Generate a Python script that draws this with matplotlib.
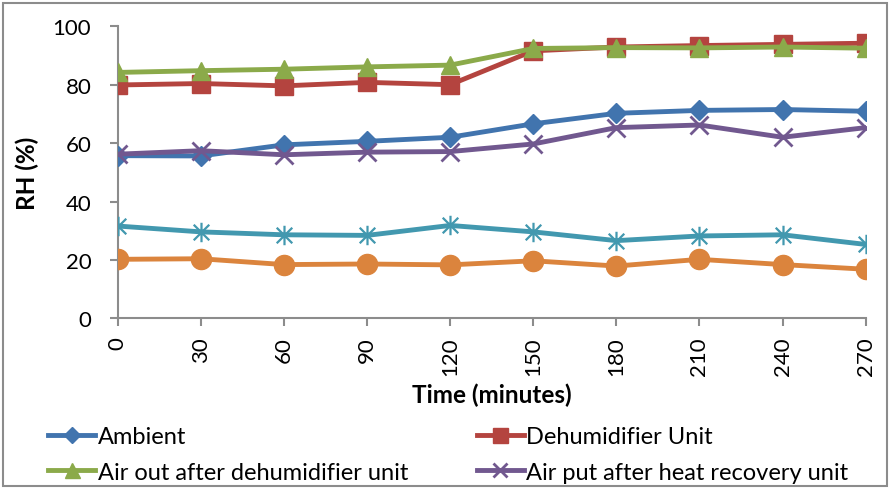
import numpy as np
import matplotlib
matplotlib.use("Agg")
import matplotlib.pyplot as plt
from matplotlib.path import Path
from matplotlib.patches import Rectangle

plt.rcParams['font.family'] = ['Lato', 'DejaVu Sans']

# --- data ---
time_min = [0, 30, 60, 90, 120, 150, 180, 210, 240, 270]
ambient = [55.7, 55.6, 59.4, 60.6, 62.0, 66.6, 70.2, 71.2, 71.5, 70.9]
dehumidifier_unit = [79.9, 80.4, 79.6, 80.8, 80.0, 91.6, 92.9, 93.4, 93.8, 94.2]
air_out_dehumidifier = [84.2, 84.8, 85.3, 86.1, 86.7, 92.4, 92.7, 92.6, 92.9, 92.5]
air_out_heat_recovery = [56.2, 57.4, 56.0, 56.9, 57.1, 59.7, 65.3, 66.2, 62.0, 65.3]
series5 = [31.6, 29.6, 28.6, 28.4, 31.8, 29.6, 26.6, 28.2, 28.6, 25.3]
series6 = [20.2, 20.4, 18.4, 18.6, 18.3, 19.7, 17.9, 20.2, 18.4, 16.8]

labels = ['Ambient', 'Dehumidifier Unit',
          'Air out after dehumidifier unit', 'Air put after heat recovery unit']

# --- styling ---
blue = '#4174AE'
red = '#B4443F'
green = '#8BAA4A'
purple = '#71588F'
cyan = '#4298AF'
orange = '#DB843D'
grey = '#8C8C8C'

# asterisk marker: x plus vertical bar
ast = Path([(-1, -1), (1, 1), (-1, 1), (1, -1), (0, -1.25), (0, 1.25)],
           [Path.MOVETO, Path.LINETO, Path.MOVETO, Path.LINETO, Path.MOVETO, Path.LINETO])

fig = plt.figure(figsize=(8.93, 4.89), dpi=100)
ax = fig.add_axes([0.1318, 0.3470, 0.8376, 0.5972])

lw = 3.5
l1, = ax.plot(time_min, ambient, color=blue, lw=lw, marker='D', ms=10, zorder=5)
l2, = ax.plot(time_min, dehumidifier_unit, color=red, lw=lw, marker='s', ms=13.5, zorder=4)
l3, = ax.plot(time_min, air_out_dehumidifier, color=green, lw=lw, marker='^', ms=13.5, zorder=6)
l4, = ax.plot(time_min, air_out_heat_recovery, color=purple, lw=lw, marker='x', ms=12.5, mew=2, zorder=5)
ax.plot(time_min, series5, color=cyan, lw=lw, marker=ast, ms=14, mew=1.6, zorder=4)
ax.plot(time_min, series6, color=orange, lw=lw, marker='o', ms=14.5, zorder=4)

ax.set_xlim(0, 270)
ax.set_ylim(0, 100)
ax.set_xticks(time_min)
ax.set_xticklabels([str(t) for t in time_min], rotation=90, va='top', ha='center')
ax.set_yticks([0, 20, 40, 60, 80, 100])

for s in ['top', 'right']:
    ax.spines[s].set_visible(False)
for s in ['left', 'bottom']:
    ax.spines[s].set_color(grey)
    ax.spines[s].set_linewidth(1.5)
ax.spines['left'].set_zorder(1)

ax.tick_params(axis='y', direction='out', length=6, width=1.5, color=grey,
               labelsize=16, pad=13)
ax.tick_params(axis='x', direction='out', length=6, width=1.5, color=grey,
               labelsize=16, pad=7)

ax.set_xlabel('Time (minutes)', fontsize=17.5, fontweight='bold', labelpad=5)
ax.set_ylabel('RH (%)', fontsize=17.5, fontweight='bold', labelpad=10)

# row-wise order: Ambient / Dehumidifier on the first row
fig.legend([l1, l3, l2, l4], [labels[0], labels[2], labels[1], labels[3]],
           loc='center left', bbox_to_anchor=(0.054, 0.069), borderaxespad=0,
           ncol=2, frameon=False, fontsize=17, handlelength=2.0, handletextpad=0.1,
           columnspacing=2.9, labelspacing=0.62, markerscale=0.8, borderpad=0)

# outer chart border
fig.patches.append(Rectangle((3 / 893, 2 / 489), 884 / 893, 483 / 489,
                             transform=fig.transFigure, fill=False,
                             edgecolor=grey, lw=1.5))

fig.savefig('out.png', dpi=100)
